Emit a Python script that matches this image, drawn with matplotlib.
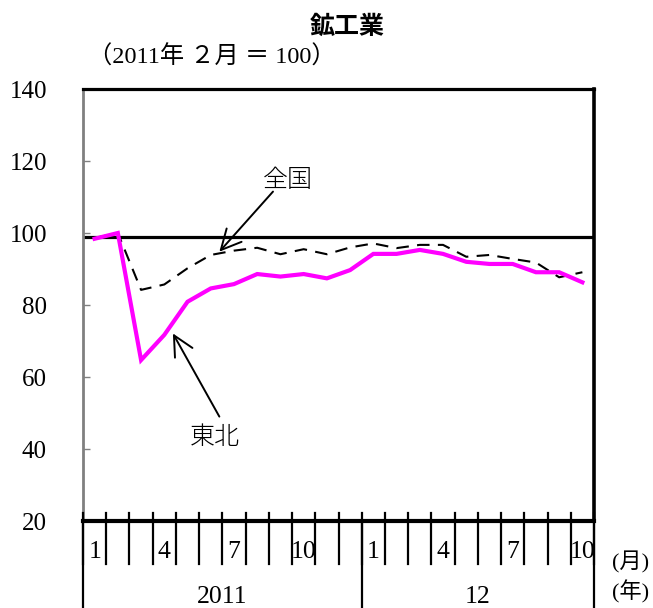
import matplotlib
matplotlib.use("Agg")
import matplotlib.pyplot as plt
from matplotlib.transforms import blended_transform_factory

plt.rcParams['font.family'] = ['Liberation Serif', 'Noto Sans CJK JP']

# Index, 2011 Feb = 100, Jan 2011 .. Oct 2012
national = [98.6, 100.0, 84.2, 85.7, 90.2, 93.9, 95.1, 95.9, 94.1, 95.5, 94.1, 96.0,
            97.1, 95.8, 96.7, 96.7, 93.4, 93.9, 92.8, 91.8, 87.7, 89.1]
tohoku = [98.4, 100.0, 64.7, 71.7, 80.9, 84.6, 85.8, 88.6, 87.9, 88.6, 87.4, 89.7,
          94.2, 94.2, 95.3, 94.2, 92.0, 91.4, 91.4, 89.1, 89.1, 86.3]
month_labels = ['1', '', '', '4', '', '', '7', '', '', '10', '', '',
                '1', '', '', '4', '', '', '7', '', '', '10']
year_labels = ['2011', '12']
year_spans = [(0, 12), (12, 22)]
y_ticks = [20, 40, 60, 80, 100, 120, 140]
base_line = 99

W, H = 653, 608
fig = plt.figure(figsize=(W / 100, H / 100), dpi=100)
ax = fig.add_axes([83 / W, 87 / H, 511 / W, 432 / H])

n = len(national)
xs = [i + 0.5 for i in range(n)]

ax.axhline(base_line, color='black', lw=2.3, zorder=2)
ax.plot(xs, national, color='black', lw=1.5, dashes=(6, 4), zorder=3)
ax.plot(xs, tohoku, color='#ff00ff', lw=3.0, zorder=4, solid_joinstyle='miter')

ax.set_xlim(0, n)
ax.set_ylim(20, 140)
ax.set_yticks(y_ticks)
ax.set_xticks([])
ax.tick_params(axis='y', direction='in', length=5, width=1, color='#808080',
               pad=26, labelsize=18)

for side in ('top', 'right', 'bottom'):
    ax.spines[side].set_color('black')
ax.spines['top'].set_linewidth(2.3)
ax.spines['right'].set_linewidth(2.6)
ax.spines['bottom'].set_linewidth(3.0)
ax.spines['left'].set_color('#808080')
ax.spines['left'].set_linewidth(2.0)

tr = blended_transform_factory(ax.transData, ax.transAxes)
ph = 432.0

# month ticks: short stub above the axis, long line below
for i in range(n + 1):
    ax.plot([i, i], [8 / ph, -43 / ph], color='black', lw=1.6,
            transform=tr, clip_on=False, zorder=5)
for i, lab in enumerate(month_labels):
    if lab:
        ax.text(i + 0.5, -31 / ph, lab, transform=tr, ha='center', va='center',
                fontsize=18.5)

# year separators and labels
for (a, b), lab in zip(year_spans, year_labels):
    ax.text((a + b) / 2, -76 / ph, lab, transform=tr, ha='center', va='center',
            fontsize=18.5)
for x in (0, 12, n):
    ax.plot([x, x], [0, -87 / ph], color='black', lw=1.6,
            transform=tr, clip_on=False, zorder=5)

ax.text(1.035, -41 / ph, '(月)', transform=ax.transAxes, ha='left', va='center',
        fontsize=16)
ax.text(1.035, -71 / ph, '(年)', transform=ax.transAxes, ha='left', va='center',
        fontsize=16)

arrow = dict(arrowstyle='->,head_length=0.6,head_width=0.3', lw=1.4,
             color='black', mutation_scale=24, shrinkA=0, shrinkB=0)
ax.annotate('', xy=(5.87, 94.8), xytext=(8.18, 111.5), arrowprops=arrow)
ax.text(8.81, 114.7, '全国', ha='center', va='center', fontsize=18,
        family=['Noto Sans CJK JP'], fontweight='light')
ax.annotate('', xy=(3.87, 72.1), xytext=(5.87, 49.0), arrowprops=arrow)
ax.text(5.69, 43.3, '東北', ha='center', va='center', fontsize=18,
        family=['Noto Sans CJK JP'], fontweight='light')

fig.text(347 / W, 1 - 27 / H, '鉱工業', ha='center', va='center', fontsize=18,
         fontweight='bold', family=['Noto Sans CJK JP'])
fig.text(88 / W, 1 - 57 / H, '（2011年 ２月 ＝ 100）', ha='left', va='center',
         fontsize=17.5)

fig.savefig('out.png', dpi=100)
